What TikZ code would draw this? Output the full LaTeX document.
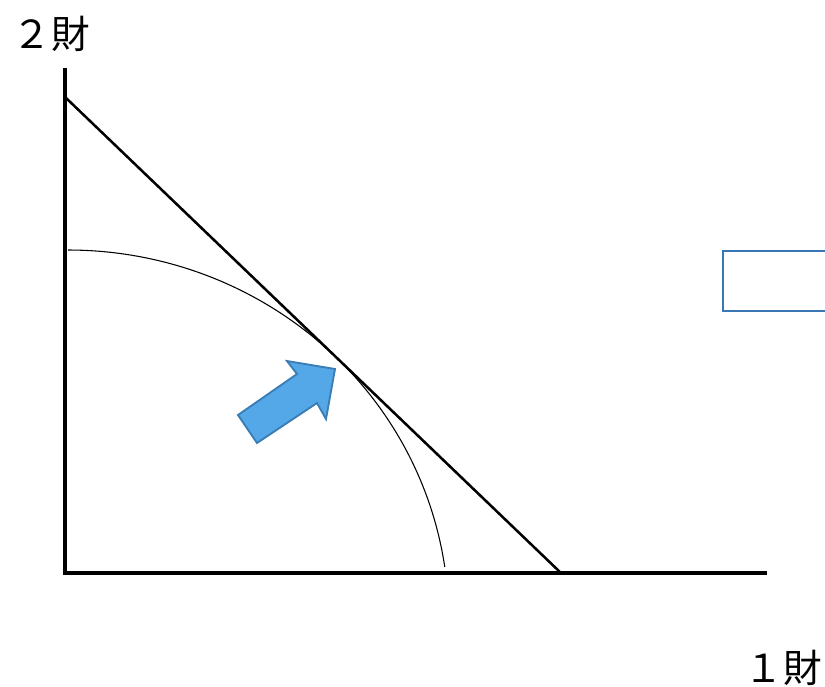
\documentclass[tikz,border=0pt]{standalone}
\usepackage{fontspec}
\newfontfamily\cjk{Noto Sans CJK JP}
\definecolor{arrowfill}{HTML}{55A8E8}
\definecolor{arrowline}{HTML}{3A7DB5}
\definecolor{boxline}{HTML}{3A78B5}
\begin{document}
\begin{tikzpicture}[x=0.75pt,y=-0.75pt,
  axis/.style={line width=2.4pt},
  budget/.style={line width=1.9pt},
  ppf/.style={line width=0.8pt},
  lbl/.style={font=\cjk\fontsize{29}{35}\selectfont, inner sep=0pt},
  blockarrow/.style={fill=arrowfill, draw=arrowline, line width=1.4pt, line join=miter},
  emptybox/.style={draw=boxline, line width=1.5pt}]
\useasboundingbox (0,0) rectangle (825,686);
\clip (0,0) rectangle (825,686);
% axes
\coordinate (ytop) at (65,68);
\coordinate (origin) at (65,573);
\coordinate (xend) at (767,573);
\draw[axis] (ytop) -- (origin) -- (xend);
% budget line
\coordinate (bA) at (65,97);
\coordinate (bB) at (561,573);
\draw[budget] (bA) -- (bB);
% production possibility curve
\draw[ppf] plot[domain=90:8.24, samples=120, smooth] ({68+380.7*cos(\x)},{620-370*sin(\x)});
% block arrow
\draw[blockarrow] (335,369) -- (287,361) -- (297,374) -- (238,415) -- (257,443) -- (317,403) -- (326,419) -- cycle;
% empty box at right edge
\draw[emptybox] (723,251) rectangle (845,311);
% labels
\node[lbl] (good2) at (51,34) {２財};
\node[lbl] (good1) at (783,668) {１財};
\end{tikzpicture}
\end{document}
